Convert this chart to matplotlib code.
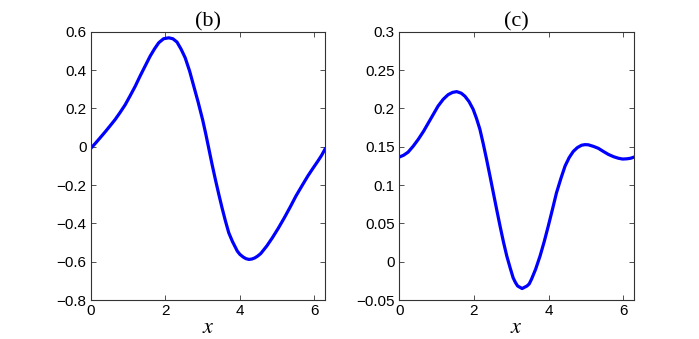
import matplotlib
matplotlib.use("Agg")
import matplotlib.pyplot as plt
import numpy as np

plt.rcParams["font.family"] = ["Liberation Sans", "DejaVu Sans"]
plt.rcParams["mathtext.fontset"] = "stix"

# values
x_b = [0.0, 0.12, 0.24, 0.38, 0.51, 0.65, 0.78, 0.92, 1.05, 1.19, 1.32, 1.46,
       1.59, 1.71, 1.82, 1.95, 2.09, 2.20, 2.31, 2.42, 2.53, 2.65, 2.76, 2.88,
       3.00, 3.08, 3.16, 3.25, 3.34, 3.43, 3.52, 3.61, 3.70, 3.80, 3.93, 4.00,
       4.09, 4.16, 4.24, 4.32, 4.40, 4.48, 4.56, 4.72, 4.87, 5.03, 5.19, 5.35,
       5.50, 5.66, 5.82, 5.96, 6.09, 6.19, 6.283]
y_b = [-0.008, 0.018, 0.045, 0.077, 0.108, 0.142, 0.178, 0.219, 0.265, 0.316,
       0.369, 0.423, 0.473, 0.512, 0.543, 0.564, 0.569, 0.564, 0.547, 0.510,
       0.465, 0.395, 0.317, 0.232, 0.140, 0.070, -0.005, -0.090, -0.170,
       -0.246, -0.319, -0.387, -0.449, -0.495, -0.545, -0.562, -0.576, -0.584,
       -0.588, -0.586, -0.580, -0.570, -0.557, -0.518, -0.475, -0.425, -0.371,
       -0.314, -0.258, -0.205, -0.153, -0.112, -0.075, -0.045, -0.012]

x_c = [0.0, 0.12, 0.24, 0.38, 0.51, 0.65, 0.78, 0.91, 1.04, 1.18, 1.31, 1.43,
       1.54, 1.66, 1.76, 1.87, 1.98, 2.07, 2.16, 2.25, 2.34, 2.43, 2.52, 2.61,
       2.70, 2.79, 2.88, 2.97, 3.05, 3.11, 3.17, 3.29, 3.42, 3.48, 3.54, 3.65,
       3.77, 3.88, 3.99, 4.10, 4.21, 4.33, 4.44, 4.55, 4.66, 4.77, 4.88, 4.97,
       5.06, 5.20, 5.33, 5.46, 5.60, 5.74, 5.87, 5.98, 6.09, 6.19, 6.283]
y_c = [0.1365, 0.139, 0.143, 0.151, 0.1596, 0.170, 0.181, 0.192, 0.203, 0.212,
       0.218, 0.221, 0.222, 0.220, 0.216, 0.209, 0.199, 0.187, 0.173, 0.154,
       0.1335, 0.112, 0.090, 0.068, 0.0465, 0.026, 0.0074, -0.008, -0.021,
       -0.027, -0.0317, -0.035, -0.0317, -0.029, -0.023, -0.010, 0.0074, 0.026,
       0.0465, 0.068, 0.090, 0.109, 0.125, 0.136, 0.144, 0.149, 0.152, 0.1528,
       0.1526, 0.1505, 0.148, 0.144, 0.140, 0.137, 0.135, 0.134, 0.1343,
       0.135, 0.1365]

xticks = [0, 2, 4, 6]
yticks_b = [0.6, 0.4, 0.2, 0, -0.2, -0.4, -0.6, -0.8]
ylabels_b = ["0.6", "0.4", "0.2", "0", "\u22120.2", "\u22120.4", "\u22120.6", "\u22120.8"]
yticks_c = [0.3, 0.25, 0.2, 0.15, 0.1, 0.05, 0, -0.05]
ylabels_c = ["0.3", "0.25", "0.2", "0.15", "0.1", "0.05", "0", "\u22120.05"]

fig = plt.figure(figsize=(6.99, 3.39), dpi=100)
ax1 = fig.add_axes([0.130, 0.115, 0.335, 0.791])
ax2 = fig.add_axes([0.571, 0.115, 0.336, 0.791])

panels = [
    (ax1, x_b, y_b, "(b)", (-0.8, 0.6), yticks_b, ylabels_b),
    (ax2, x_c, y_c, "(c)", (-0.05, 0.3), yticks_c, ylabels_c),
]
for ax, xs, ys, title, ylim, yt, yl in panels:
    ax.plot(xs, ys, color="#0000ff", lw=2.3, solid_joinstyle="round")
    ax.set_xlim(0, 2 * np.pi)
    ax.set_ylim(*ylim)
    ax.set_xticks(xticks)
    ax.set_xticklabels([str(t) for t in xticks])
    ax.set_yticks(yt)
    ax.set_yticklabels(yl)
    ax.tick_params(direction="in", length=3.5, width=0.6, top=True, right=True,
                   labelsize=11, color="#333333", pad=3)
    for sp in ax.spines.values():
        sp.set_color("#333333")
        sp.set_linewidth(0.8)
    ax.set_title(title, fontsize=16, family="Liberation Serif", pad=4)
    ax.set_xlabel("$x$", fontsize=16, labelpad=-1)

fig.savefig("out.png", dpi=100)
